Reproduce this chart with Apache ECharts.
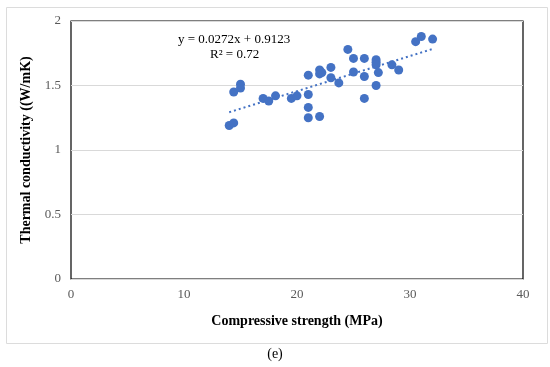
<!DOCTYPE html>
<html><head><meta charset="utf-8">
<script src="https://cdn.jsdelivr.net/npm/echarts@6/dist/echarts.min.js"></script>
<style>html,body{margin:0;padding:0;background:#fff}#c{width:550px;height:367px}</style>
</head><body><div id="c"></div>
<script>
var strength = [14, 14.4, 14.4, 15, 15, 17, 17.5, 18.1, 19.5, 20, 21, 21, 21, 21, 22, 22, 22, 22.2, 23, 23, 23.7, 24.5, 25, 25, 25.96, 25.96, 25.96, 27, 27, 27, 27, 27.2, 28.4, 29, 30.5, 31, 32];
var conductivity = [1.19, 1.21, 1.45, 1.48, 1.51, 1.40, 1.38, 1.42, 1.40, 1.42, 1.58, 1.43, 1.33, 1.25, 1.26, 1.62, 1.59, 1.60, 1.64, 1.56, 1.52, 1.78, 1.71, 1.605, 1.71, 1.57, 1.40, 1.70, 1.68, 1.66, 1.50, 1.60, 1.66, 1.62, 1.84, 1.88, 1.86];
var trendX = [14, 32];
var trendY = [1.293, 1.783];
var xTicks = [0, 10, 20, 30, 40];
var yTicks = [0, 0.5, 1, 1.5, 2];
var equationText = 'y = 0.0272x + 0.9123';
var r2Text = 'R² = 0.72';
var xTitle = 'Compressive strength (MPa)';
var yTitle = 'Thermal conductivity ((W/mK)';
var caption = '(e)';

var pts = strength.map(function(x, i){ return [x, conductivity[i]]; });
var trend = trendX.map(function(x, i){ return [x, trendY[i]]; });
var font = 'Liberation Serif';
var chart = echarts.init(document.getElementById('c'));
chart.setOption({
  animation: false,
  backgroundColor: '#fff',
  grid: {left: 71, right: 27, top: 21, bottom: 88, show: true, borderColor: '#000', borderWidth: 1.2},
  xAxis: {
    type: 'value', min: 0, max: 40, interval: 10,
    axisLine: {show: false}, axisTick: {show: false}, splitLine: {show: false},
    axisLabel: {fontFamily: font, fontSize: 13, color: '#595959', margin: 9,
      formatter: function(v){ return xTicks.indexOf(v) >= 0 ? String(v) : ''; }},
    name: xTitle, nameLocation: 'middle', nameGap: 35,
    nameTextStyle: {fontFamily: font, fontSize: 14, fontWeight: 'bold', color: '#000'}
  },
  yAxis: {
    type: 'value', min: 0, max: 2, interval: 0.5,
    axisLine: {show: false}, axisTick: {show: false},
    splitLine: {show: true, lineStyle: {color: '#d9d9d9', width: 1}},
    axisLabel: {fontFamily: font, fontSize: 13, color: '#595959', margin: 10,
      formatter: function(v){ return yTicks.indexOf(v) >= 0 ? String(v) : ''; }},
    name: yTitle, nameLocation: 'middle', nameGap: 34, nameRotate: 90,
    nameTextStyle: {fontFamily: font, fontSize: 14, fontWeight: 'bold', color: '#000'}
  },
  series: [
    {type: 'line', data: trend, symbol: 'none', z: 3,
     lineStyle: {color: '#4472C4', width: 2, type: [2, 3]}},
    {type: 'scatter', data: pts, symbol: 'circle', symbolSize: 9, z: 4,
     itemStyle: {color: '#4472C4', opacity: 1}}
  ],
  graphic: [
    {type: 'rect', left: 4, top: 5, shape: {width: 541, height: 336},
     style: {fill: 'none', stroke: '#dcdcdc', lineWidth: 1}, silent: true, z: -1},
    {type: 'text', left: 178, top: 33, style: {text: equationText, font: '13px "Liberation Serif"', fill: '#000'}},
    {type: 'text', left: 210, top: 48, style: {text: r2Text, font: '13px "Liberation Serif"', fill: '#000'}},
    {type: 'text', left: 'center', top: 347, style: {text: caption, font: '14px "Liberation Serif"', fill: '#000'}}
  ]
});
</script></body></html>
